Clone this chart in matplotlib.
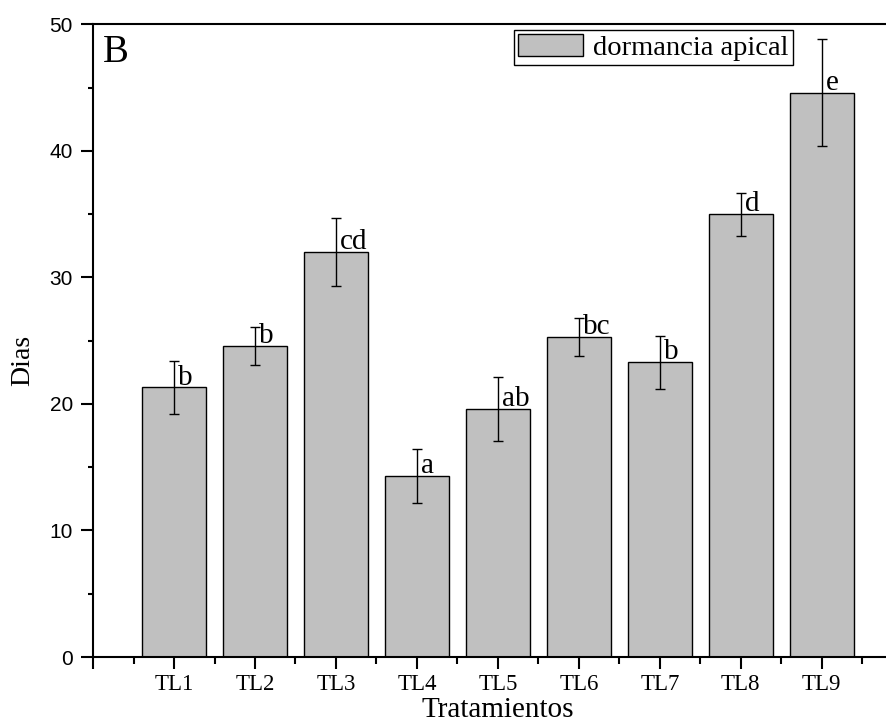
import matplotlib.pyplot as plt
import numpy as np
from matplotlib.ticker import MultipleLocator, FixedLocator

# data
tratamientos = ['TL1', 'TL2', 'TL3', 'TL4', 'TL5', 'TL6', 'TL7', 'TL8', 'TL9']
dias = [21.3, 24.6, 32.0, 14.3, 19.6, 25.3, 23.3, 35.0, 44.6]
error = [2.1, 1.5, 2.7, 2.1, 2.5, 1.5, 2.1, 1.7, 4.2]
letras = ['b', 'b', 'cd', 'a', 'ab', 'bc', 'b', 'd', 'e']

serif = 'Liberation Serif'
sans = 'Liberation Sans'

fig = plt.figure(figsize=(8.86, 7.24), dpi=100)
# right edge of the plot runs past the figure, as in the cropped original
ax = fig.add_axes([0.105, 0.0925, 0.914, 0.874])

x = np.arange(1, len(tratamientos) + 1)
ax.bar(x, dias, width=0.79, color='#c0c0c0', edgecolor='black', linewidth=1.0,
       label='dormancia apical', zorder=2)
ax.errorbar(x, dias, yerr=error, fmt='none', ecolor='black', elinewidth=1.0,
            capsize=3.7, capthick=1.0, zorder=3)

for xi, yi, s in zip(x, dias, letras):
    ax.annotate(s, (xi, yi), xytext=(3, 2), textcoords='offset points',
                ha='left', va='baseline', fontsize=21, family=serif)

ax.set_xlim(0, 10)
ax.set_ylim(0, 50)

ax.xaxis.set_major_locator(FixedLocator(np.arange(0, 10)))
ax.set_xticklabels([''] + tratamientos, fontsize=16.5, family=serif)
ax.xaxis.set_minor_locator(FixedLocator(np.arange(0.5, 10, 1.0)))
ax.yaxis.set_major_locator(MultipleLocator(10))
ax.yaxis.set_minor_locator(MultipleLocator(5))
for lab in ax.get_yticklabels():
    lab.set_family(sans)
    lab.set_fontsize(15)

ax.tick_params(which='major', direction='out', length=8.5, width=1.5)
ax.tick_params(axis='y', which='major', pad=6)
ax.tick_params(axis='x', which='major', pad=4)
ax.tick_params(axis='y', which='minor', direction='out', length=3.6, width=1.5)
ax.tick_params(axis='x', which='minor', direction='out', length=5, width=1.5)

for sp in ax.spines.values():
    sp.set_linewidth(1.5)

ax.set_xlabel('Tratamientos', fontsize=21, family=serif, labelpad=1)
ax.set_ylabel('Dias', fontsize=20, family=serif)
ax.yaxis.set_label_coords(-0.071, 0.468)

ax.text(0.012, 0.985, 'B', transform=ax.transAxes, ha='left', va='top',
        fontsize=28, family=serif)

leg = fig.legend(loc='upper right', bbox_to_anchor=(793 / 886, 1 - 30 / 724),
                 prop={'family': serif, 'size': 20.5}, fancybox=False,
                 edgecolor='black', framealpha=1, borderpad=0.15,
                 handlelength=2.3, handleheight=0.8, handletextpad=0.35,
                 borderaxespad=0)
leg.get_frame().set_linewidth(1.0)

plt.savefig('out.png', dpi=100)
plt.close('all')
